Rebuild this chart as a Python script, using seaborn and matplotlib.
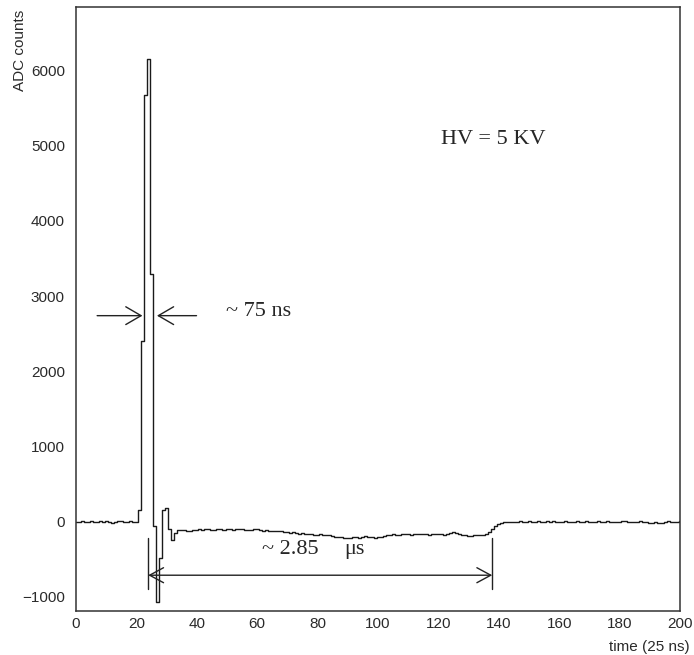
import numpy as np
import matplotlib
matplotlib.use("Agg")
import matplotlib.pyplot as plt
from matplotlib.ticker import MultipleLocator
import seaborn as sns

# ADC samples, one per 25 ns time bin (bin centres 0..200)
pre_pulse = [0, -5, 3, -8, 0, 4, -10, 0, 5, -3, 8, -5, -15, 0, 10, 5, -5, 0, 8, -5, -10]
pulse = [150, 2400, 5670, 6150, 3290, -60, -1070, -490, 160, 185, -105, -240, -150]
tail = [-110, -115, -110, -120, -125, -110, -115, -105, -110, -100, -105, -115, -110,
        -105, -100, -110, -95, -100, -110, -105, -95, -100, -110, -115, -110, -100,
        -105, -110, -120, -115, -125, -120, -130, -125,
        -130, -135, -140, -150, -145, -155, -160, -150, -165, -170, -160, -175, -180, -170,
        -175, -185, -180, -195, -200, -210, -200, -215, -225, -220, -210, -200, -215,
        -205, -195, -200, -210, -215, -205, -200,
        -190, -180, -175, -170, -180, -175, -170, -165, -170, -175, -165, -170, -160,
        -165, -170, -175, -170, -160, -165, -170, -175, -170,
        -150, -140, -150, -165, -175, -185, -195, -190, -185, -180, -175, -180, -170,
        -140, -100]
recovery = [-60, -30, -15, -10, -5, 0, -5]
after = [0, 5, -3, 0, 8, 0, -5, 3, 0, -8, 5, 0, 10, 0, -5, 0, 5, -3, -8, 0,
         4, 0, -5, 5, 0, -3, 0, 8, -5, 0, 3, 0, -10, -5, 0, 5, 8, 0, -5, 0,
         -3, 5, 0, -8, -15, -20, -10, -25, -20, -5, 10, 0, -5, 0, 3, 0]

adc = np.array(pre_pulse + pulse + tail + recovery + after, dtype=float)
t = np.arange(len(adc))

x_ticks = [0, 20, 40, 60, 80, 100, 120, 140, 160, 180, 200]
y_ticks = [-1000, 0, 1000, 2000, 3000, 4000, 5000, 6000]

sns.set_style("white")
plt.rcParams['font.family'] = ['Liberation Sans', 'DejaVu Sans']

fig = plt.figure(figsize=(6.94, 6.55), dpi=100)
ax = fig.add_axes([0.1095, 0.0672, 0.8705, 0.9217])

sns.lineplot(x=t, y=adc, ax=ax, drawstyle='steps-mid', estimator=None,
             color='#1a1a1a', linewidth=1.0)

ax.set_xlim(0, 200)
ax.set_ylim(-1190, 6844)
ax.set_xticks(x_ticks)
ax.set_yticks(y_ticks)
ax.xaxis.set_minor_locator(MultipleLocator(5))
ax.yaxis.set_minor_locator(MultipleLocator(250))
ax.tick_params(which='both', direction='in', top=False, right=False,
               colors='#2a2a2a', labelsize=11, width=1.0)
ax.tick_params(which='major', length=10)
ax.tick_params(which='minor', length=5)
ax.tick_params(axis='y', pad=8)
ax.tick_params(axis='x', pad=4)
for s in ax.spines.values():
    s.set_color('#333333')
    s.set_linewidth(1.1)
ax.set_xlabel('')
ax.set_ylabel('')

fig.text(0.029, 0.985, 'ADC counts', rotation=90, ha='center', va='top',
         fontsize=11, color='#2a2a2a')
fig.text(0.993, 0.0122, 'time (25 ns)', ha='right', va='center',
         fontsize=11, color='#2a2a2a')

serif = ['Liberation Serif', 'DejaVu Serif']
arrow_kw = dict(arrowstyle='->,head_length=0.55,head_width=0.32', lw=1.0,
                color='#222222', mutation_scale=20, shrinkA=0, shrinkB=0)

# FWHM arrows
ax.annotate('', xy=(22.0, 2740), xytext=(7.0, 2740), arrowprops=arrow_kw)
ax.annotate('', xy=(26.8, 2740), xytext=(39.9, 2740), arrowprops=arrow_kw)
ax.text(49.5, 2790, '~ 75 ns', family=serif, fontsize=16, va='center', ha='left')

# tail length arrow
ax.plot([23.9, 23.9], [-213, -904], color='#222222', lw=1.0)
ax.plot([137.8, 137.8], [-213, -904], color='#222222', lw=1.0)
ax.annotate('', xy=(23.9, -714), xytext=(137.8, -714),
            arrowprops=dict(arrowstyle='<->,head_length=0.5,head_width=0.27', lw=1.0,
                            color='#222222', mutation_scale=20, shrinkA=0, shrinkB=0))
ax.text(61.7, -370, '~ 2.85', family=serif, fontsize=16, va='center', ha='left')
ax.text(88.7, -370, 'μs', family=serif, fontsize=16, va='center', ha='left')

ax.text(121, 5080, 'HV = 5 KV', family=serif, fontsize=16, va='center', ha='left')

fig.savefig('out.png', dpi=100)
